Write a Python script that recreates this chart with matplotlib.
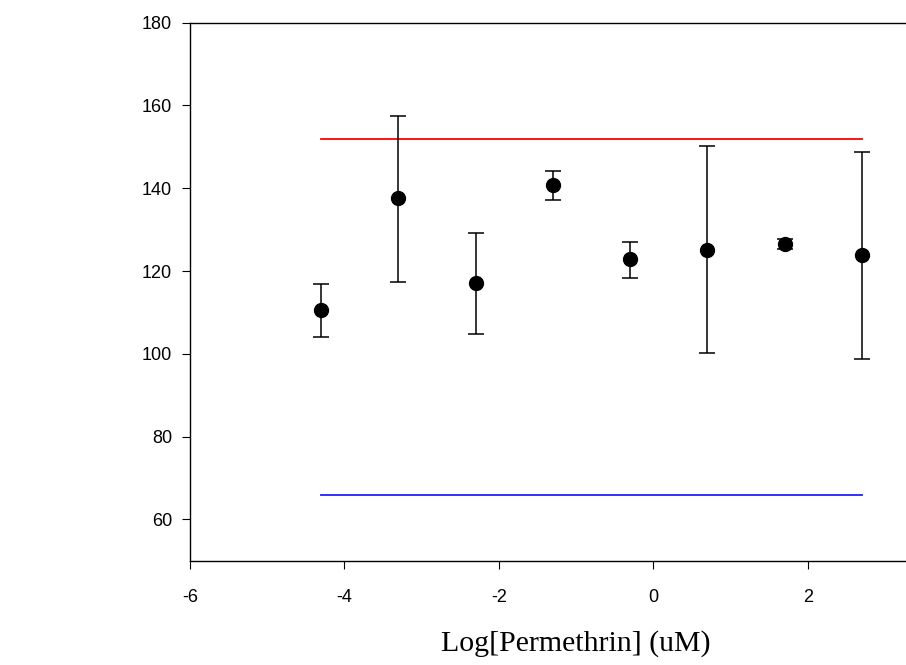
import matplotlib.pyplot as plt

plt.rcParams["axes.unicode_minus"] = False

# Log concentrations and responses
log_conc = [-4.3, -3.3, -2.3, -1.3, -0.3, 0.7, 1.7, 2.7]
mean_vals = [110.6, 137.6, 117.0, 140.7, 122.8, 125.1, 126.6, 123.9]
err_low = [104.0, 117.4, 104.7, 137.2, 118.4, 100.1, 125.4, 98.8]
err_high = [116.9, 157.5, 129.2, 144.1, 127.1, 150.3, 127.8, 148.8]

# Reference lines
upper_ref = 152.0
lower_ref = 66.0
ref_x = [-4.3, 2.7]

yerr = [[m - lo for m, lo in zip(mean_vals, err_low)],
        [hi - m for m, hi in zip(mean_vals, err_high)]]

fig = plt.figure(figsize=(9.06, 6.65), dpi=100)
ax = fig.add_axes([0.2097, 0.1568, 1.062 - 0.2097, 0.9659 - 0.1568])

ax.plot(ref_x, [upper_ref, upper_ref], color="red", lw=1.3)
ax.plot(ref_x, [lower_ref, lower_ref], color="#2020ff", lw=1.3)

ax.errorbar(log_conc, mean_vals, yerr=yerr, fmt="o", color="black",
            markersize=10, ecolor="black", elinewidth=1.1, capsize=6,
            capthick=1.1)

ax.set_xlim(-6, 4)
ax.set_ylim(50, 180)
ax.set_xticks([-6, -4, -2, 0, 2])
ax.set_yticks([60, 80, 100, 120, 140, 160, 180])

ax.spines["right"].set_visible(False)
for s in ["left", "bottom", "top"]:
    ax.spines[s].set_linewidth(1.0)

ax.tick_params(axis="both", direction="out", length=6, width=0.8,
               labelsize=13)
ax.tick_params(axis="x", pad=14)
ax.tick_params(axis="y", pad=7)
for lab in ax.get_xticklabels() + ax.get_yticklabels():
    lab.set_family("Liberation Sans")

ax.set_xlabel("Log[Permethrin] (uM)", family="Liberation Serif",
              fontsize=21.5, labelpad=18)

fig.savefig("out.png", dpi=100)
